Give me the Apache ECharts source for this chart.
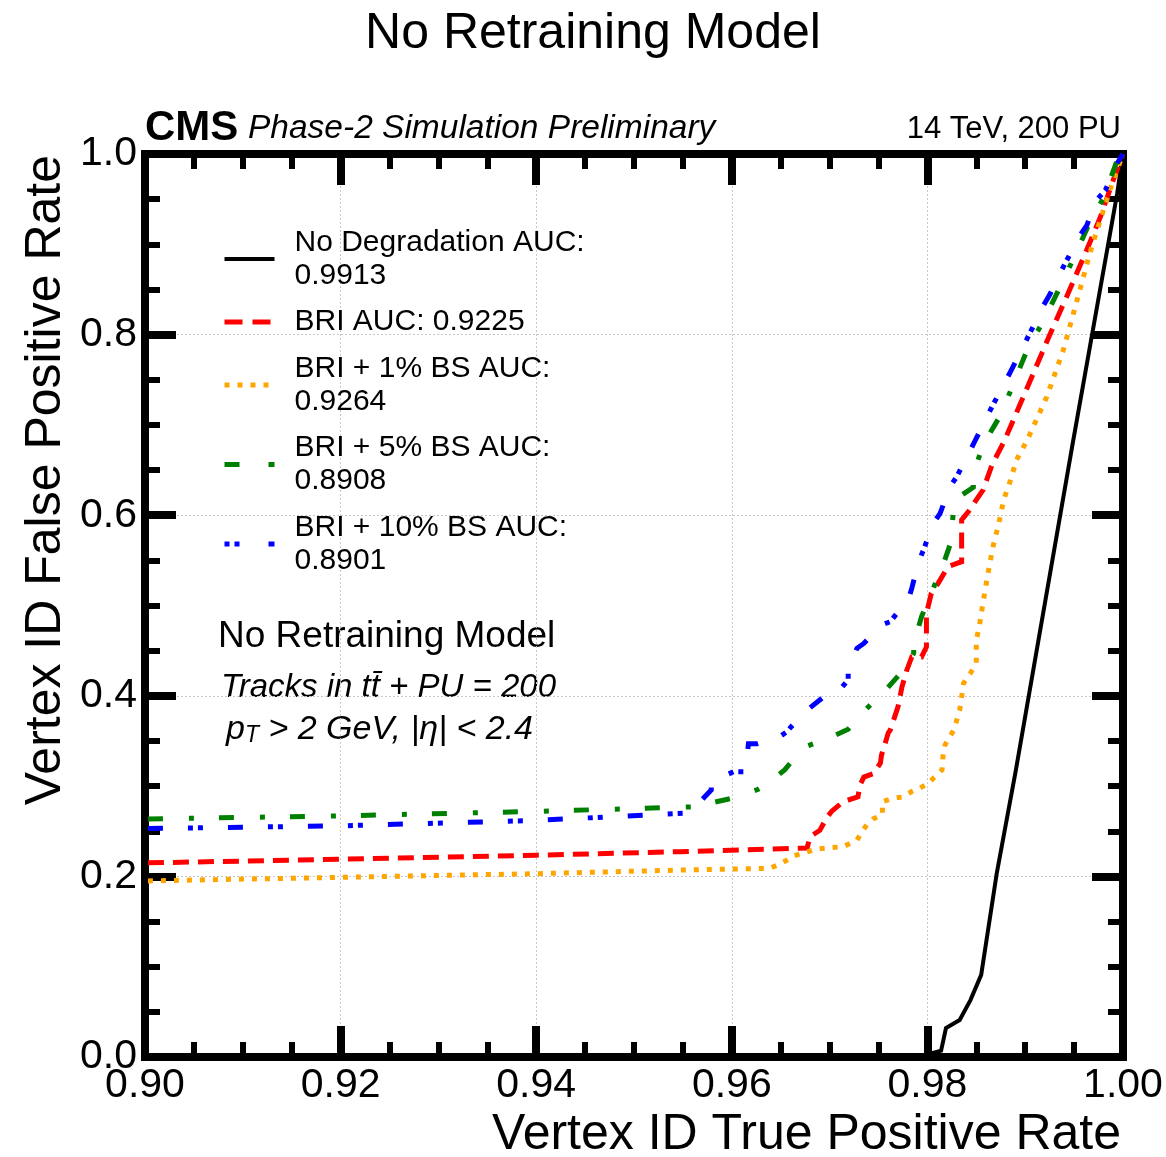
<!DOCTYPE html>
<html>
<head>
<meta charset="utf-8">
<script src="https://cdn.jsdelivr.net/npm/echarts@6/dist/echarts.min.js"></script>
<style>
html,body{margin:0;padding:0;background:#fff;}
#chart{width:1166px;height:1157px;}
</style>
</head>
<body>
<div id="chart"></div>
<script>
// ---------- data ----------
const xTickLabels = ['0.90','0.92','0.94','0.96','0.98','1.00'];
const yTickLabels = ['0.0','0.2','0.4','0.6','0.8','1.0'];

const seriesLabels = ['No Degradation','BRI','BRI + 1% BS','BRI + 5% BS','BRI + 10% BS'];
const aucValues = ['0.9913','0.9225','0.9264','0.8908','0.8901'];

const blackX = [0.9790,0.9801,0.9814,0.9819,0.9833,0.9844,0.9855,0.9871,0.9890,0.9948,0.9994,1.0];
const blackY = [0.000,0.003,0.007,0.032,0.041,0.063,0.091,0.204,0.315,0.676,0.956,1.0];

const redX = [0.9003,0.9200,0.9400,0.9547,0.9677,0.9680,0.9690,0.9697,0.9702,0.9714,0.9719,0.9729,0.9731,0.9735,0.9745,0.9752,0.9753,0.9757,0.9760,0.9762,0.9770,0.9774,0.9779,0.9784,0.9794,0.9799,0.9799,0.9804,0.9811,0.9821,0.9835,0.9835,0.9842,0.9850,0.9857,0.9866,0.9879,0.9898,0.9922,0.9944,0.9963,0.9977,0.9990,1.0];
const redY = [0.215,0.219,0.2235,0.2274,0.2315,0.244,0.251,0.265,0.272,0.283,0.2846,0.288,0.301,0.310,0.314,0.3256,0.334,0.348,0.359,0.362,0.388,0.410,0.4286,0.443,0.443,0.454,0.491,0.5135,0.5246,0.543,0.5485,0.5947,0.604,0.617,0.628,0.6556,0.683,0.731,0.792,0.846,0.894,0.9306,0.971,1.0];

const orangeX = [0.9003,0.9200,0.9400,0.9547,0.9639,0.9651,0.9663,0.9687,0.9714,0.9728,0.9733,0.9738,0.9745,0.9754,0.9754,0.9765,0.9775,0.9784,0.9792,0.9801,0.9806,0.9815,0.9816,0.9818,0.9827,0.9833,0.9837,0.9844,0.9850,0.9850,0.9853,0.9857,0.9862,0.9867,0.9873,0.9878,0.9885,0.9891,0.9902,0.9922,0.9939,0.9953,0.9966,0.9980,0.9990,1.0];
const orangeY = [0.195,0.199,0.203,0.207,0.209,0.2145,0.2226,0.2303,0.233,0.240,0.2495,0.257,0.264,0.268,0.2828,0.2865,0.288,0.294,0.2976,0.303,0.3087,0.318,0.334,0.3455,0.362,0.384,0.414,0.425,0.436,0.4618,0.4765,0.504,0.5357,0.565,0.591,0.617,0.639,0.661,0.683,0.731,0.783,0.838,0.890,0.938,0.971,1.0];

const greenX = [0.9003,0.9200,0.9400,0.9561,0.9569,0.9600,0.9627,0.9637,0.9654,0.9668,0.9675,0.9697,0.9719,0.9738,0.9757,0.9774,0.9786,0.9786,0.9794,0.9806,0.9816,0.9825,0.9825,0.9828,0.9847,0.9847,0.9857,0.9876,0.9888,0.9902,0.9920,0.9934,0.9951,0.9968,0.9980,0.9994,1.0];
const greenY = [0.2636,0.267,0.272,0.277,0.279,0.2865,0.2965,0.303,0.318,0.336,0.3436,0.352,0.363,0.386,0.406,0.4267,0.447,0.458,0.4876,0.519,0.545,0.573,0.587,0.617,0.631,0.646,0.678,0.713,0.746,0.783,0.818,0.849,0.888,0.929,0.951,0.993,1.0];

const blueX = [0.9003,0.9200,0.9400,0.9550,0.9561,0.9579,0.9579,0.9602,0.9614,0.9617,0.9626,0.9649,0.9656,0.9673,0.9694,0.9706,0.9719,0.9719,0.9728,0.9735,0.9752,0.9762,0.9781,0.9784,0.9791,0.9796,0.9806,0.9813,0.9823,0.9830,0.9844,0.9849,0.9866,0.9885,0.9903,0.9919,0.9925,0.9939,0.9956,0.9963,0.9973,0.9982,0.9994,1.0];
const blueY = [0.253,0.256,0.262,0.270,0.2755,0.2957,0.305,0.316,0.316,0.347,0.347,0.3547,0.360,0.3806,0.399,0.401,0.4175,0.4286,0.4526,0.458,0.478,0.482,0.508,0.519,0.5485,0.5615,0.591,0.602,0.6316,0.6426,0.672,0.683,0.720,0.759,0.7977,0.833,0.844,0.875,0.910,0.921,0.949,0.960,0.9897,1.0];

// ---------- chart ----------
const FONT = '"Liberation Sans", Arial, Helvetica, sans-serif';
const zip = (xs, ys) => xs.map((x, i) => [x, ys[i]]);

const colors = ['#000000', '#ff0000', '#ffa500', '#008000', '#0000ff'];
const widths = [4, 5, 5, 5, 5];
const dashes = ['solid', [16, 9], [5, 8], [15, 26, 5, 25], [15, 25, 5, 5, 5, 25]];
const legendDashes = ['solid', [18, 10], [5, 8], [15, 29, 6, 20], [5, 5, 5, 29, 6, 20]];
const seriesData = [zip(blackX, blackY), zip(redX, redY), zip(orangeX, orangeY), zip(greenX, greenY), zip(blueX, blueY)];
const names = seriesLabels.map((l, i) => l + ' AUC:' + (i === 1 ? ' ' : '\n') + aucValues[i]);

const chart = echarts.init(document.getElementById('chart'), null, {renderer: 'canvas'});

const frameLine = {show: true, onZero: false, lineStyle: {color: '#000', width: 8, cap: 'square'}};
const majorTick = {show: true, inside: true, length: 31, lineStyle: {color: '#000', width: 8}};
const minorTick = {show: true, splitNumber: 4, length: 15, lineStyle: {color: '#000', width: 6}};
const gridLine = {show: true, lineStyle: {color: '#c8c8c8', width: 1, type: [2, 2]}};

const option = {
  animation: false,
  backgroundColor: '#ffffff',
  grid: {left: 145, right: 43, top: 154, bottom: 100, containLabel: false},
  xAxis: [
    {type: 'value', min: 0.90, max: 1.00, interval: 0.02, position: 'bottom',
     axisLine: frameLine, axisTick: majorTick, minorTick: minorTick, splitLine: gridLine,
     axisLabel: {show: true, margin: 8, color: '#000', fontSize: 41, fontFamily: FONT,
       formatter: v => xTickLabels[Math.round((v - 0.90) / 0.02)]}},
    {type: 'value', min: 0.90, max: 1.00, interval: 0.02, position: 'top',
     axisLine: frameLine, axisTick: majorTick, minorTick: minorTick, splitLine: {show: false},
     axisLabel: {show: false}}
  ],
  yAxis: [
    {type: 'value', min: 0, max: 1, interval: 0.2, position: 'left',
     axisLine: frameLine, axisTick: majorTick, minorTick: minorTick, splitLine: gridLine,
     axisLabel: {show: true, margin: 8, color: '#000', fontSize: 41, fontFamily: FONT,
       formatter: v => yTickLabels[Math.round(v / 0.2)]}},
    {type: 'value', min: 0, max: 1, interval: 0.2, position: 'right',
     axisLine: frameLine, axisTick: majorTick, minorTick: minorTick, splitLine: {show: false},
     axisLabel: {show: false}}
  ],
  legend: {
    orient: 'vertical', left: 222, top: 226, padding: 0,
    itemWidth: 50, itemHeight: 20, itemGap: 13.5,
    itemStyle: {opacity: 0},
    textStyle: {fontSize: 30, lineHeight: 33, color: '#000', fontFamily: FONT, padding: [0, 0, 0, 15]},
    data: names.map((n, i) => ({name: n,
      itemStyle: {opacity: 0},
      lineStyle: {color: colors[i], width: widths[i], type: legendDashes[i], cap: 'butt', opacity: 1}}))
  },
  series: names.map((n, i) => ({
    name: n, type: 'line', data: seriesData[i], showSymbol: false, symbol: 'none',
    xAxisIndex: 0, yAxisIndex: 0, z: 3 + i,
    lineStyle: {color: colors[i], width: widths[i], type: dashes[i], cap: 'butt', join: 'miter'},
    itemStyle: {color: colors[i]}
  })),
  graphic: [
    {type: 'text', x: 593, y: 34, style: {text: 'No Retraining Model', font: '50px ' + FONT, fill: '#000', align: 'center', verticalAlign: 'middle'}},
    {type: 'text', x: 145, y: 128, style: {text: 'CMS', font: 'bold 42px ' + FONT, fill: '#000', align: 'left', verticalAlign: 'middle'}},
    {type: 'text', x: 248, y: 129, style: {text: 'Phase-2 Simulation Preliminary', font: 'italic 33.5px ' + FONT, fill: '#000', align: 'left', verticalAlign: 'middle'}},
    {type: 'text', x: 1121, y: 129, style: {text: '14 TeV, 200 PU', font: '31px ' + FONT, fill: '#000', align: 'right', verticalAlign: 'middle'}},
    {type: 'text', x: 218, y: 637, style: {text: 'No Retraining Model', font: '37px ' + FONT, fill: '#000', align: 'left', verticalAlign: 'middle'}},
    {type: 'text', x: 221, y: 688, style: {text: 'Tracks in tt\u0304 + PU = 200', font: 'italic 33px ' + FONT, fill: '#000', align: 'left', verticalAlign: 'middle'}},
    {type: 'text', x: 226, y: 727, style: {
      text: '{m|p}{s|T}{m| > 2 GeV, |\u03b7| < 2.4}', align: 'left', verticalAlign: 'middle',
      rich: {m: {font: 'italic 34px ' + FONT, fill: '#000', verticalAlign: 'bottom', lineHeight: 40},
             s: {font: 'italic 23px ' + FONT, fill: '#000', verticalAlign: 'bottom', lineHeight: 34}}}},
    {type: 'text', x: 1121, y: 1135, style: {text: 'Vertex ID True Positive Rate', font: '50px ' + FONT, fill: '#000', align: 'right', verticalAlign: 'middle'}},
    {type: 'text', x: 46, y: 155, rotation: Math.PI / 2, style: {text: 'Vertex ID False Positive Rate', font: '50px ' + FONT, fill: '#000', align: 'right', verticalAlign: 'middle'}}
  ]
};
chart.setOption(option);
</script>
</body>
</html>
